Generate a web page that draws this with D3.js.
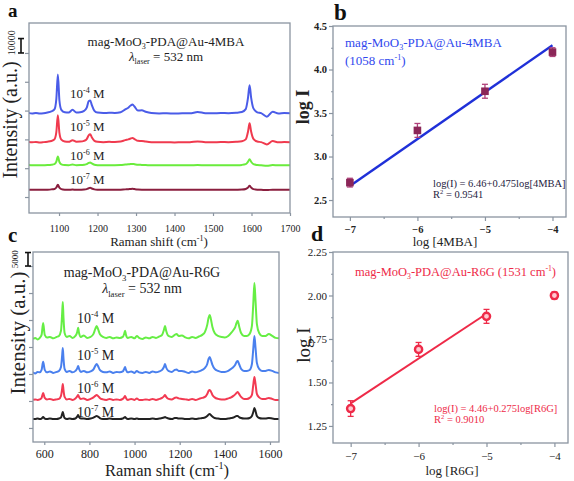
<!DOCTYPE html>
<html><head><meta charset="utf-8">
<script src="https://cdn.jsdelivr.net/npm/d3@7"></script>
<style>body{margin:0;background:#fff} svg text{font-family:"Liberation Serif","Times New Roman",serif}</style>
</head><body><svg id="c" width="574" height="481"></svg>
<script>
// ---------- DATA ----------
// Panel a: 4MBA spectra (Raman shift, cm-1) ; intensities above each trace's baseline (counts)
const shiftA = [1020,1030,1040,1050,1060,1070,1080,1088,1093,1097,1101,1106,1115,1125,1135,1145,1155,1165,1172,1177,1181,1185,1192,1200,1215,1230,1245,1260,1272,1280,1286,1291,1296,1305,1315,1325,1340,1360,1380,1400,1420,1440,1460,1480,1500,1520,1540,1560,1575,1585,1591,1595,1599,1605,1615,1625,1640,1655,1670,1685,1700];
const mba_1e4 = [500,0,300,0,200,700,1400, 2800,10000,27000,9000,2500, 800,600,2500,700,900,1800, 4000,8500,9000,6000,1800,600, 300,500,400,900,2800,4000, 5500,6200,4800,2000,2200,1200, 300,0,200,-100,200,100, 1000,200,100,300,200,500, 1000,3000,11000,19500,11000,3500, 800,200,-2200,1200,0,300,200];
const mba_1e5 = [300,0,200,-100,100,400,900, 2000,7000,18700,6500,1800, 500,300,1400,400,500,1000, 2200,4800,5500,3500,1000,300, 100,300,200,500,1500,2000, 2600,2900,2200,1000,900,500, 100,0,100,-100,100,0, 600,100,0,200,100,300, 700,2000,7500,13200,7500,2400, 500,100,-1500,800,0,200,100];
const mba_1e6 = [200,0,100,0,100,200,400, 800,2500,6200,2300,700, 200,100,500,100,200,400, 800,1700,2000,1300,400,100, 0,100,100,200,500,700, 900,1000,800,400,300,200, 0,0,100,0,100,0, 200,0,0,100,0,100, 300,800,2500,4200,2500,800, 200,0,-300,200,0,100,0];
const mba_1e7 = [0,0,0,0,0,100,300, 600,1600,3500,1500,500, 100,0,200,0,100,200, 500,1100,1400,900,300,100, 0,0,0,100,300,400, 600,700,500,200,100,100, 0,0,0,0,0,0, 100,0,0,0,0,100, 200,600,1600,2800,1600,500, 100,0,-200,100,0,0,0];
const offsetsA = [78000, 58000, 42000, 25000];
const concLabels = ["-4", "-5", "-6", "-7"];
const xTicksA = [1100,1200,1300,1400,1500,1600,1700];
const yTicksA = [20000,40000,60000,80000,100000,120000];
const scaleBarA = 10000;

// Panel c: R6G spectra
const shiftC = [550,560,570,580,588,595,602,612,625,640,655,665,674,679,682,685,690,700,712,725,738,746,750,754,762,775,790,805,818,826,832,838,846,860,875,890,905,920,935,948,954,958,962,970,985,1000,1010,1020,1035,1050,1065,1080,1095,1110,1122,1130,1135,1140,1150,1165,1178,1186,1195,1210,1225,1240,1255,1270,1285,1300,1312,1322,1328,1333,1338,1345,1355,1370,1385,1400,1415,1428,1438,1446,1452,1457,1463,1472,1485,1498,1510,1520,1526,1531,1536,1542,1552,1565,1580,1595,1610,1625,1640];
const r6g_1e4 = [0,370,-200,400,1500,5900,1500,550,740,200, 740,1100,3000,9250,13700,8100,2200,740,1100,370, 1100,2600,4100,2200,740,1300,370,740,1850,3700, 4800,3700,1850,740,370,740,200,550,370,740, 1850,3000,1500,370,740,200,1100,370,0,550, 200,740,370,900,1500,3300,4800,3000,1100,740, 1500,1850,1100,1300,550,200,740,370,900,1500, 2600,5200,7800,8900,7400,4400,2200,1100,740,550, 1100,2200,3300,4400,5900,6700,4800,2200,1100,1100, 1850,4800,13000,20700,14100,5500,2200,1100,1100,1850, 1100,370,200];
const r6g_1e5 = [200,-200,370,200,1100,4100,1100,200,550,0, 370,740,2200,6300,9250,5500,1500,370,740,200, 740,1650,2600,1500,370,740,200,550,1300,2600, 3300,2600,1100,370,200,550,0,370,200,550, 1500,2200,1100,200,550,0,740,200,0,370, 0,550,200,550,1100,2200,3300,2000,740,370, 1100,1300,740,740,370,0,550,200,550,1100, 1850,3300,5200,5900,4800,3000,1500,740,370,370, 740,1500,2200,3000,4100,4400,3300,1500,740,740, 1100,3300,8900,13700,9250,3700,1500,740,740,1100, 740,200,0];
const r6g_1e6 = [0,190,0,190,740,2590,740,190,370,0, 190,370,1480,4070,5920,3700,1110,190,370,0, 560,1300,1850,1110,370,560,0,370,930,1480, 1850,1480,740,190,0,370,0,190,0,370, 930,1480,740,0,370,0,560,0,0,190, 0,370,0,370,740,1300,1850,1110,370,190, 740,930,560,370,190,0,370,0,370,740, 1110,2220,3330,3700,3150,1850,930,370,190,190, 560,930,1480,2040,2590,2960,2220,1110,370,370, 740,1850,5550,8510,5920,2220,930,370,370,740, 370,0,0];
const r6g_1e7 = [0,0,190,0,190,740,190,0,190,0, 0,190,560,1850,2590,1670,370,0,190,0, 190,930,1480,740,190,190,0,190,560,930, 1110,930,370,0,0,190,0,0,0,190, 560,740,370,0,190,0,190,0,0,0, 0,190,0,190,370,560,740,560,190,0, 370,370,190,190,0,0,190,0,190,370, 560,1110,1670,1850,1480,930,370,190,0,0, 190,370,560,930,1110,1110,740,370,190,190, 370,1110,2590,4070,2960,1110,370,190,190,370, 190,0,0];
const offsetsC = [43000, 30400, 20400, 13300];
const xTicksC = [600,800,1000,1200,1400,1600];
const yTicksC = [10000,20000,30000,40000,50000,60000,70000];
const scaleBarC = 5000;

// Panel b: log I vs log[4MBA]
const logConc = [-7, -6, -5, -4];
const logI_4MBA = [2.70, 3.30, 3.75, 4.20];
const err_4MBA = [0.05, 0.08, 0.08, 0.05];
const fitB_x = [-7, -4];
const fitB_y = [2.66, 4.28];
const yTicksB = [2.5, 3.0, 3.5, 4.0, 4.5];
const yMinorB = [2.75, 3.25, 3.75, 4.25];
// Panel d: log I vs log[R6G]
const logI_R6G = [1.35, 1.69, 1.88, 2.00];
const err_R6G = [0.045, 0.04, 0.04, 0.02];
const fitD_x = [-7, -5];
const fitD_y = [1.38, 1.895];
const yTicksD = [1.25, 1.50, 1.75, 2.00, 2.25];
const yMinorD = [1.375, 1.625, 1.875, 2.125];
const xTicksBD = [-7, -6, -5, -4];
const xMinorBD = [-6.5, -5.5, -4.5];

// ---------- DRAW ----------
const svg = d3.select("#c");
svg.append("rect").attr("width",574).attr("height",481).attr("fill","#fff");
const FRAME = "#8a94a0";
const SERIF = "Liberation Serif, Times New Roman, serif";

function frame(x0,y0,x1,y1){
  svg.append("rect").attr("x",x0).attr("y",y0).attr("width",x1-x0).attr("height",y1-y0)
    .attr("fill","none").attr("stroke",FRAME).attr("stroke-width",1.3);
}
function styleAxis(g, fs, weight){
  g.attr("font-family", SERIF).attr("font-size", fs).attr("font-weight", weight||"normal");
  g.select(".domain").remove();
  g.selectAll(".tick line").attr("stroke", FRAME).attr("stroke-width", 1.2);
  g.selectAll(".tick text").attr("fill", "#222");
}
function rich(x, y, parts, opt){
  const t = svg.append("text").attr("x",x).attr("y",y)
    .attr("font-size",opt.fs).attr("fill",opt.fill||"#222")
    .attr("text-anchor",opt.anchor||"start").attr("font-weight",opt.weight||"normal");
  if(opt.rot!==undefined) t.attr("transform",`rotate(${opt.rot},${x},${y})`);
  let shift = 0;
  parts.forEach(p=>{
    const s = t.append("tspan").text(p.t);
    let target = 0, size = opt.fs;
    if(p.sup){ target = -opt.fs*0.4; size = opt.fs*0.62; }
    if(p.sub){ target = opt.fs*0.25; size = opt.fs*0.62; }
    s.attr("dy", target - shift).attr("font-size", size);
    if(p.it) s.attr("font-style","italic");
    shift = target;
  });
  return t;
}
const fmtInt = d3.format("d");

// ===== Panel a =====
const xA = d3.scaleLinear().domain([1022,1700]).range([29,290]);
const yA = d3.scaleLinear().domain([8900,140800]).range([213,23]);
svg.append("clipPath").attr("id","clipA").append("rect").attr("x",29).attr("y",23).attr("width",261).attr("height",190);
const colorsA = ["#4a5ce8","#f03a4e","#6aec3c","#8a1e3e"];
[mba_1e4, mba_1e5, mba_1e6, mba_1e7].forEach((arr,k)=>{
  const line = d3.line().x((d,i)=>xA(shiftA[i])).y(d=>yA(d+offsetsA[k])).curve(d3.curveMonotoneX);
  svg.append("path").datum(arr).attr("d",line).attr("fill","none")
    .attr("stroke",colorsA[k]).attr("stroke-width",2).attr("clip-path","url(#clipA)");
});
frame(29,23,290,213);
styleAxis(svg.append("g").attr("transform","translate(0,213)")
  .call(d3.axisBottom(xA).tickValues(xTicksA).tickSize(3).tickSizeOuter(0).tickPadding(9).tickFormat(fmtInt)), 10);
styleAxis(svg.append("g").attr("transform","translate(29,0)")
  .call(d3.axisLeft(yA).tickValues(yTicksA).tickSize(4).tickSizeOuter(0).tickFormat("")), 10);
// scale bar
{
  const yb0 = yA(yTicksA[yTicksA.length-1]), yb1 = yA(yTicksA[yTicksA.length-1]+scaleBarA);
  const g = svg.append("g").attr("stroke","#111").attr("stroke-width",1.6);
  g.append("line").attr("x1",21).attr("x2",21).attr("y1",yb0).attr("y2",yb1);
  g.append("line").attr("x1",18).attr("x2",24).attr("y1",yb0).attr("y2",yb0);
  g.append("line").attr("x1",18).attr("x2",24).attr("y1",yb1).attr("y2",yb1);
  rich(15,(yb0+yb1)/2-3,[{t:String(scaleBarA)}],{fs:10,anchor:"middle",rot:-90});
}
rich(8,17,[{t:"a"}],{fs:19,weight:"bold",fill:"#111"});
rich(17,120,[{t:"Intensity (a.u.)"}],{fs:20,anchor:"middle",rot:-90});
rich(159,246,[{t:"Raman shift (cm"},{t:"-1",sup:true},{t:")"}],{fs:13,anchor:"middle"});
rich(166,46,[{t:"mag-MoO"},{t:"3",sub:true},{t:"-PDA@Au-4MBA"}],{fs:13,anchor:"middle"});
rich(166,61,[{t:"λ",it:true},{t:"laser",sub:true},{t:" = 532 nm"}],{fs:13,anchor:"middle"});
[98,131,160,184].forEach((y,k)=>rich(70,y,[{t:"10"},{t:concLabels[k],sup:true},{t:" M"}],{fs:13}));

// ===== Panel c =====
const xC = d3.scaleLinear().domain([550,1640]).range([33,279]);
const yC = d3.scaleLinear().domain([4800,75200]).range([442,252]);
svg.append("clipPath").attr("id","clipC").append("rect").attr("x",33).attr("y",252).attr("width",246).attr("height",190);
const colorsC = ["#66ee44","#4a80ee","#f23a52","#222222"];
[r6g_1e4, r6g_1e5, r6g_1e6, r6g_1e7].forEach((arr,k)=>{
  const line = d3.line().x((d,i)=>xC(shiftC[i])).y(d=>yC(d+offsetsC[k])).curve(d3.curveMonotoneX);
  svg.append("path").datum(arr).attr("d",line).attr("fill","none")
    .attr("stroke",colorsC[k]).attr("stroke-width",2).attr("clip-path","url(#clipC)");
});
frame(33,252,279,442);
styleAxis(svg.append("g").attr("transform","translate(0,442)")
  .call(d3.axisBottom(xC).tickValues(xTicksC).tickSize(3).tickSizeOuter(0).tickPadding(4).tickFormat(fmtInt)), 12);
styleAxis(svg.append("g").attr("transform","translate(33,0)")
  .call(d3.axisLeft(yC).tickValues(yTicksC).tickSize(4).tickSizeOuter(0).tickFormat("")), 10);
{
  const yb0 = yC(yTicksC[yTicksC.length-1]), yb1 = yC(yTicksC[yTicksC.length-1]+scaleBarC);
  const g = svg.append("g").attr("stroke","#111").attr("stroke-width",1.6);
  g.append("line").attr("x1",28).attr("x2",28).attr("y1",yb0).attr("y2",yb1);
  g.append("line").attr("x1",25).attr("x2",31).attr("y1",yb0).attr("y2",yb0);
  g.append("line").attr("x1",25).attr("x2",31).attr("y1",yb1).attr("y2",yb1);
  rich(18,(yb0+yb1)/2,[{t:String(scaleBarC)}],{fs:9,anchor:"middle",rot:-90});
}
rich(8,242,[{t:"c"}],{fs:21,weight:"bold",fill:"#111"});
rich(25,333,[{t:"Intensity (a.u.)"}],{fs:21,anchor:"middle",rot:-90});
rich(167,476,[{t:"Raman shift (cm"},{t:"-1",sup:true},{t:")"}],{fs:16.5,anchor:"middle"});
rich(142,277,[{t:"mag-MoO"},{t:"3",sub:true},{t:"-PDA@Au-R6G"}],{fs:14,anchor:"middle"});
rich(142,293,[{t:"λ",it:true},{t:"laser",sub:true},{t:" = 532 nm"}],{fs:14,anchor:"middle"});
[323,360,393,417].forEach((y,k)=>rich(77,y,[{t:"10"},{t:concLabels[k],sup:true},{t:" M"}],{fs:14}));

// ===== Panel b =====
const xB = d3.scaleLinear().domain([-7.25,-3.8]).range([333,566]);
const yB = d3.scaleLinear().domain([2.305,4.5]).range([217,26]);
frame(333,26,566,217);
styleAxis(svg.append("g").attr("transform","translate(0,217)")
  .call(d3.axisBottom(xB).tickValues(xTicksBD).tickSize(4).tickSizeOuter(0).tickPadding(5).tickFormat(fmtInt)), 10.5, "bold");
styleAxis(svg.append("g").attr("transform","translate(0,217)")
  .call(d3.axisBottom(xB).tickValues(xMinorBD).tickSize(2).tickSizeOuter(0).tickFormat("")), 10);
styleAxis(svg.append("g").attr("transform","translate(333,0)")
  .call(d3.axisLeft(yB).tickValues(yTicksB).tickSize(4).tickSizeOuter(0).tickPadding(2).tickFormat(d3.format(".1f"))), 10.5, "bold");
styleAxis(svg.append("g").attr("transform","translate(333,0)")
  .call(d3.axisLeft(yB).tickValues(yMinorB).tickSize(2).tickSizeOuter(0).tickFormat("")), 10);
svg.append("line").attr("x1",xB(fitB_x[0])).attr("y1",yB(fitB_y[0])).attr("x2",xB(fitB_x[1])).attr("y2",yB(fitB_y[1]))
  .attr("stroke","#1f30d8").attr("stroke-width",2.4);
{
  const MB = "#8b2658";
  logConc.forEach((x,i)=>{
    const cx = xB(x), y0 = yB(logI_4MBA[i]-err_4MBA[i]), y1 = yB(logI_4MBA[i]+err_4MBA[i]);
    const g = svg.append("g").attr("stroke","#b0407a").attr("stroke-width",1.3);
    g.append("line").attr("x1",cx).attr("x2",cx).attr("y1",y0).attr("y2",y1);
    g.append("line").attr("x1",cx-3).attr("x2",cx+3).attr("y1",y0).attr("y2",y0);
    g.append("line").attr("x1",cx-3).attr("x2",cx+3).attr("y1",y1).attr("y2",y1);
    svg.append("rect").attr("x",cx-3.8).attr("y",yB(logI_4MBA[i])-3.8).attr("width",7.6).attr("height",7.6).attr("fill",MB);
  });
}
rich(334,20,[{t:"b"}],{fs:23,weight:"bold",fill:"#111"});
rich(309,107,[{t:"log I"}],{fs:18,anchor:"middle",rot:-90,weight:"bold"});
rich(445,246,[{t:"log [4MBA]"}],{fs:13,anchor:"middle"});
rich(345,47,[{t:"mag-MoO"},{t:"3",sub:true},{t:"-PDA@Au-4MBA"}],{fs:13,fill:"#3048ee"});
rich(345,65,[{t:"(1058 cm"},{t:"-1",sup:true},{t:")"}],{fs:13,fill:"#3048ee"});
rich(433,187,[{t:"log(I) = 6.46+0.475log[4MBA]"}],{fs:10.5,fill:"#1e2240"});
rich(433,198,[{t:"R"},{t:"2",sup:true},{t:" = 0.9541"}],{fs:10.5,fill:"#1e2240"});

// ===== Panel d =====
const xD = d3.scaleLinear().domain([-7.26,-3.8]).range([333,568]);
const yD = d3.scaleLinear().domain([1.152,2.25]).range([443,252]);
frame(333,252,568,443);
styleAxis(svg.append("g").attr("transform","translate(0,443)")
  .call(d3.axisBottom(xD).tickValues(xTicksBD).tickSize(4).tickSizeOuter(0).tickPadding(5).tickFormat(fmtInt)), 11);
styleAxis(svg.append("g").attr("transform","translate(0,443)")
  .call(d3.axisBottom(xD).tickValues(xMinorBD).tickSize(2).tickSizeOuter(0).tickFormat("")), 10);
styleAxis(svg.append("g").attr("transform","translate(333,0)")
  .call(d3.axisLeft(yD).tickValues(yTicksD).tickSize(4).tickSizeOuter(0).tickPadding(2).tickFormat(d3.format(".2f"))), 11);
styleAxis(svg.append("g").attr("transform","translate(333,0)")
  .call(d3.axisLeft(yD).tickValues(yMinorD).tickSize(2).tickSizeOuter(0).tickFormat("")), 10);
const RED = "#ee2a48";
svg.append("line").attr("x1",xD(fitD_x[0])).attr("y1",yD(fitD_y[0])).attr("x2",xD(fitD_x[1])).attr("y2",yD(fitD_y[1]))
  .attr("stroke",RED).attr("stroke-width",2);
logConc.forEach((x,i)=>{
  const cx = xD(x), y0 = yD(logI_R6G[i]-err_R6G[i]), y1 = yD(logI_R6G[i]+err_R6G[i]);
  const g = svg.append("g").attr("stroke",RED).attr("stroke-width",1.3);
  g.append("line").attr("x1",cx).attr("x2",cx).attr("y1",y0).attr("y2",y1);
  g.append("line").attr("x1",cx-3).attr("x2",cx+3).attr("y1",y0).attr("y2",y0);
  g.append("line").attr("x1",cx-3).attr("x2",cx+3).attr("y1",y1).attr("y2",y1);
  svg.append("circle").attr("cx",cx).attr("cy",yD(logI_R6G[i])).attr("r",3.6)
    .attr("fill","#ffc8d0").attr("stroke",RED).attr("stroke-width",2.4);
});
rich(311,241,[{t:"d"}],{fs:22,weight:"bold",fill:"#111"});
rich(310,345,[{t:"log I"}],{fs:19,anchor:"middle",rot:-90});
rich(452,475,[{t:"log [R6G]"}],{fs:13,anchor:"middle"});
rich(355,276,[{t:"mag-MoO"},{t:"3",sub:true},{t:"-PDA@Au-R6G (1531 cm"},{t:"-1",sup:true},{t:")"}],{fs:12.5,fill:RED});
rich(434,412,[{t:"log(I) = 4.46+0.275log[R6G]"}],{fs:10.5,fill:RED});
rich(434,423,[{t:"R"},{t:"2",sup:true},{t:" = 0.9010"}],{fs:10.5,fill:RED});
</script></body></html>
